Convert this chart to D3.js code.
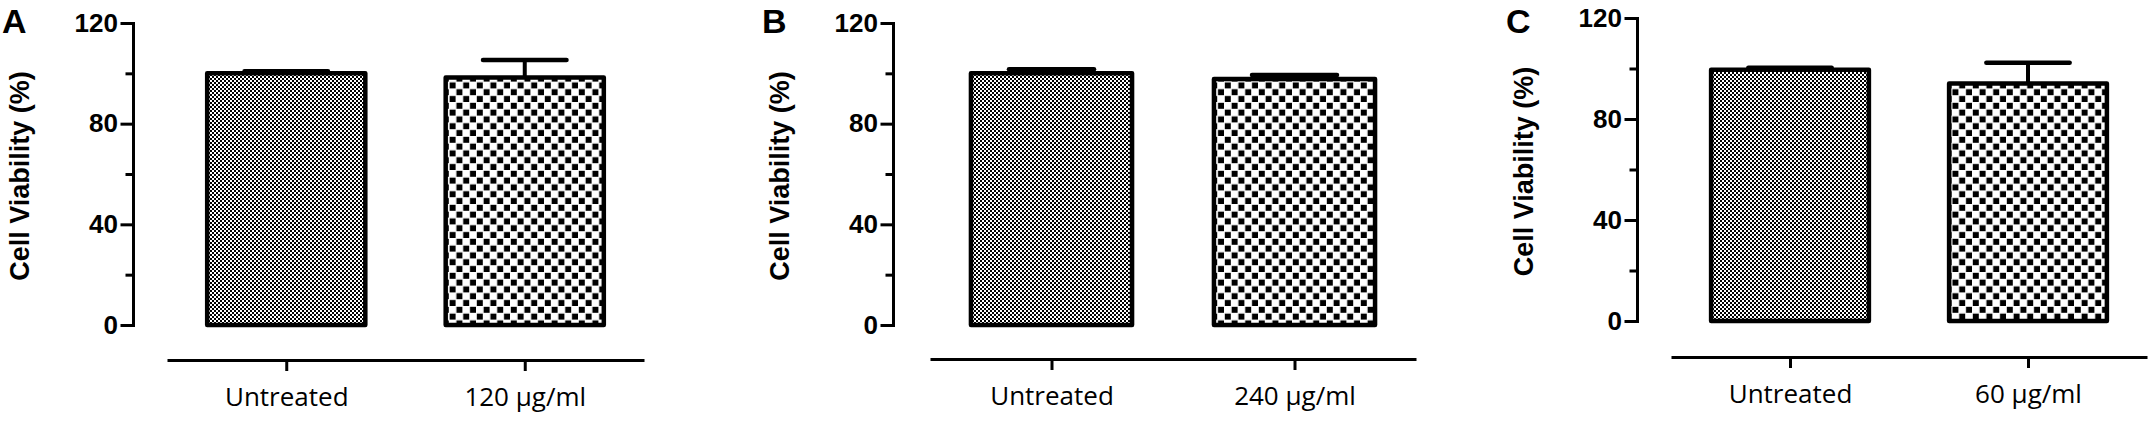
<!DOCTYPE html>
<html>
<head>
<meta charset="utf-8">
<script src="https://cdn.jsdelivr.net/npm/d3@7"></script>
<style>
  body { margin: 0; background: #fff; }
</style>
</head>
<body>
<script>
// three panels, each: untreated vs one dose
var panelLetters = ["A", "B", "C"];
var groupLabels = [
  ["Untreated", "120 µg/ml"],
  ["Untreated", "240 µg/ml"],
  ["Untreated", "60 µg/ml"]
];
// mean cell viability (%) and error (upper half only is visible)
var viability = [
  [100, 98.3],
  [100, 97.7],
  [99.5, 94.1]
];
var errors = [
  [0.8, 7.0],
  [1.6, 1.6],
  [0.8, 8.2]
];
var majorTicks = [0, 40, 80, 120];
var minorTicks = [20, 60, 100];
var yTitle = "Cell Viability (%)";

// where each panel sits on the page
var layout = [
  {axisX: 133, yBottom: 325, yTop: 23, xLeft: 167, xRight: 644, xAxisY: 360},
  {axisX: 893, yBottom: 325, yTop: 23, xLeft: 930, xRight: 1416, xAxisY: 359},
  {axisX: 1637, yBottom: 321, yTop: 18, xLeft: 1671, xRight: 2147, xAxisY: 357}
];

var w = 2155, h = 423;

var svg = d3.select("body").append("svg")
    .attr("width", w)
    .attr("height", h);

svg.append("rect").attr("width", w).attr("height", h).attr("fill", "#fff");

var defs = svg.append("defs");

// fine checker for the untreated bars
var fine = defs.append("pattern")
    .attr("id", "fineCheck")
    .attr("patternUnits", "userSpaceOnUse")
    .attr("width", 4).attr("height", 4);
fine.append("rect").attr("width", 4).attr("height", 4).attr("fill", "#fff");
fine.append("rect").attr("width", 2).attr("height", 2).attr("fill", "#000");
fine.append("rect").attr("x", 2).attr("y", 2).attr("width", 2).attr("height", 2).attr("fill", "#000");

// coarse checker for the treated bars
var coarse = defs.append("pattern")
    .attr("id", "coarseCheck")
    .attr("patternUnits", "userSpaceOnUse")
    .attr("width", 13.6).attr("height", 13.6);
coarse.append("rect").attr("width", 13.6).attr("height", 13.6).attr("fill", "#fff");
coarse.append("rect").attr("x", 0.8).attr("y", 0.8).attr("width", 6).attr("height", 6).attr("fill", "#000");
coarse.append("rect").attr("x", 7.6).attr("y", 7.6).attr("width", 6).attr("height", 6).attr("fill", "#000");

var fills = ["url(#fineCheck)", "url(#coarseCheck)"];

panelLetters.forEach(function(letter, p){
  var L = layout[p];
  var g = svg.append("g").attr("class", "panel");

  var y = d3.scaleLinear()
      .domain([0, 120])
      .range([L.yBottom, L.yTop]);

  var x = d3.scalePoint()
      .domain(groupLabels[p])
      .range([L.xLeft, L.xRight])
      .padding(0.5);

  var step = x.step();
  var barW = step * 0.663;
  var capW = step * 0.35;

  // y axis, major ticks with labels
  var yAxis = g.append("g")
      .attr("transform", "translate(" + L.axisX + ",0)")
      .call(d3.axisLeft(y).tickValues(majorTicks).tickSize(11).tickSizeOuter(0).tickPadding(4));
  // minor ticks
  var yMinor = g.append("g")
      .attr("transform", "translate(" + L.axisX + ",0)")
      .call(d3.axisLeft(y).tickValues(minorTicks).tickSize(6).tickFormat(""));
  yMinor.select(".domain").remove();

  [yAxis, yMinor].forEach(function(a){
    a.selectAll("path, line")
        .attr("stroke", "#000")
        .attr("stroke-width", 3)
        .attr("stroke-linecap", "square");
  });
  yAxis.selectAll("text")
      .attr("font-family", "'Liberation Sans Narrow', 'Arial Narrow', sans-serif")
      .attr("font-weight", "bold")
      .attr("font-size", 26)
      .attr("fill", "#000");

  // y title
  g.append("text")
      .attr("transform", "translate(" + (L.axisX - 104) + "," + ((L.yBottom + L.yTop) / 2 + 2) + ") rotate(-90)")
      .attr("text-anchor", "middle")
      .attr("font-family", "'Liberation Sans', Arial, sans-serif")
      .attr("font-weight", "bold")
      .attr("font-size", 27)
      .attr("fill", "#000")
      .text(yTitle);

  // panel letter
  g.append("text")
      .attr("x", L.axisX - 131)
      .attr("y", 33)
      .attr("font-family", "'Liberation Sans', Arial, sans-serif")
      .attr("font-weight", "bold")
      .attr("font-size", 34)
      .attr("fill", "#000")
      .text(letter);

  // bars
  var rows = groupLabels[p].map(function(lab, i){
    return {label: lab, value: viability[p][i], err: errors[p][i], fill: fills[i]};
  });

  g.selectAll(".bar")
      .data(rows)
      .enter()
      .append("rect")
      .attr("class", "bar")
      .attr("x", function(d){ return x(d.label) - barW / 2; })
      .attr("y", function(d){ return y(d.value); })
      .attr("width", barW)
      .attr("height", function(d){ return y(0) - y(d.value); })
      .attr("fill", function(d){ return d.fill; })
      .attr("stroke", "#000")
      .attr("stroke-width", 4.5)
      .attr("stroke-linejoin", "round");

  // error bars (upper half)
  g.selectAll(".errLine")
      .data(rows)
      .enter()
      .append("line")
      .attr("class", "errLine")
      .attr("x1", function(d){ return x(d.label); })
      .attr("x2", function(d){ return x(d.label); })
      .attr("y1", function(d){ return y(d.value); })
      .attr("y2", function(d){ return y(d.value + d.err); })
      .attr("stroke", "#000")
      .attr("stroke-width", 4);

  g.selectAll(".errCap")
      .data(rows)
      .enter()
      .append("line")
      .attr("class", "errCap")
      .attr("x1", function(d){ return x(d.label) - capW / 2; })
      .attr("x2", function(d){ return x(d.label) + capW / 2; })
      .attr("y1", function(d){ return y(d.value + d.err); })
      .attr("y2", function(d){ return y(d.value + d.err); })
      .attr("stroke", "#000")
      .attr("stroke-width", 4.5)
      .attr("stroke-linecap", "round");

  // detached x axis underneath
  var xAxis = g.append("g")
      .attr("transform", "translate(0," + L.xAxisY + ")")
      .call(d3.axisBottom(x).tickSize(11).tickSizeOuter(0).tickPadding(17));
  xAxis.selectAll("path, line")
      .attr("stroke", "#000")
      .attr("stroke-width", 3);
  xAxis.selectAll("text")
      .attr("font-family", "'Open Sans', sans-serif")
      .attr("font-size", 26)
      .attr("fill", "#000");
});
</script>
</body>
</html>
